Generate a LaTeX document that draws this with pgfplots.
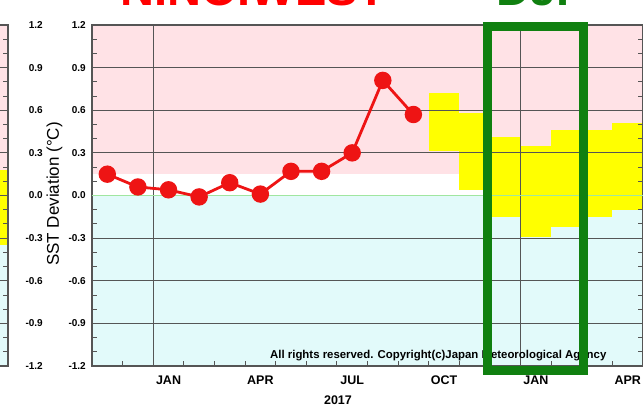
\documentclass[border=0pt]{standalone}
\usepackage{fontspec}
\setmainfont{Liberation Sans}
\usepackage{pgfplots}
\pgfplotsset{compat=1.18}
\definecolor{pinkbg}{RGB}{255,226,230}
\definecolor{cyanbg}{RGB}{226,250,250}
\definecolor{gridgray}{RGB}{85,85,85}
\definecolor{zerogreen}{RGB}{160,230,160}
\definecolor{boxgreen}{RGB}{16,128,16}
\definecolor{dotred}{RGB}{238,20,20}
\definecolor{yell}{RGB}{255,255,0}
\pgfplotsset{
  jma/.style={
    scale only axis, width=551pt, height=341pt,
    xmin=-1.5, xmax=16.5, ymin=-1.2, ymax=1.2,
    set layers, clip=false,
    ytick={-1.2,-0.9,-0.6,-0.3,0,0.3,0.6,0.9,1.2},
    yticklabels={-1.2,-0.9,-0.6,-0.3,0.0,0.3,0.6,0.9,1.2},
    minor ytick={-1.1,-1.0,-0.8,-0.7,-0.5,-0.4,-0.2,-0.1,0.1,0.2,0.4,0.5,0.7,0.8,1.0,1.1},
    ymajorgrids,
    major grid style={gridgray, line width=1.1pt},
    tick align=inside,
    minor tick length=5pt, major tick length=5pt,
    every tick/.style={gridgray, line width=0.9pt},
    axis line style={gridgray, line width=1.8pt},
    ytick pos=both,
    xtick={1,4,7,10,13,16},
    minor xtick={-0.5,0.5,...,15.5},
    major x tick style={draw=none},
    xtick pos=bottom,
    extra x ticks={0.5,12.5}, extra x tick labels={},
    extra x tick style={grid=major, major tick length=0pt},
    yticklabel style={font=\bfseries\fontsize{10}{12}\selectfont, inner sep=0pt},
    xticklabel style={font=\bfseries\fontsize{12.5}{14}\selectfont, inner sep=0pt, anchor=north, yshift=-10pt},
  }
}
\begin{document}
\begin{tikzpicture}[x=1pt,y=1pt]
% left (cropped) panel
\begin{axis}[jma, at={(8pt,40pt)}, anchor=south east,
  xticklabels={}, yticklabel pos=right,
  yticklabel style={anchor=east, xshift=35pt}]
  \addplot[fill=pinkbg, draw=none, on layer=axis background] coordinates {(-1.5,0.15) (16.5,0.15) (16.5,1.2) (-1.5,1.2)};
  \addplot[fill=cyanbg, draw=none, on layer=axis background] coordinates {(-1.5,-1.2) (16.5,-1.2) (16.5,0) (-1.5,0)};
  \addplot[fill=yell, draw=none, on layer=axis background] coordinates {(15.5,-0.35) (16.5,-0.35) (16.5,0.18) (15.5,0.18)};
\end{axis}
% main panel
\begin{axis}[jma, at={(92pt,40pt)}, anchor=south west,
  xticklabels={JAN,APR,JUL,OCT,JAN,APR}, yticklabel pos=left,
  yticklabel style={anchor=east, xshift=-6pt}]
  \addplot[fill=pinkbg, draw=none, on layer=axis background] coordinates {(-1.5,0.15) (16.5,0.15) (16.5,1.2) (-1.5,1.2)};
  \addplot[fill=cyanbg, draw=none, on layer=axis background] coordinates {(-1.5,-1.2) (16.5,-1.2) (16.5,0) (-1.5,0)};
  % forecast 70% ranges (Oct 2017 - Apr 2018)
  \addplot[fill=yell, draw=none, on layer=axis background] coordinates {(9.5,0.31) (10.5,0.31) (10.5,0.72) (9.5,0.72)};
  \addplot[fill=yell, draw=none, on layer=axis background] coordinates {(10.5,0.04) (11.5,0.04) (11.5,0.58) (10.5,0.58)};
  \addplot[fill=yell, draw=none, on layer=axis background] coordinates {(11.5,-0.15) (12.5,-0.15) (12.5,0.41) (11.5,0.41)};
  \addplot[fill=yell, draw=none, on layer=axis background] coordinates {(12.5,-0.29) (13.5,-0.29) (13.5,0.35) (12.5,0.35)};
  \addplot[fill=yell, draw=none, on layer=axis background] coordinates {(13.5,-0.22) (14.5,-0.22) (14.5,0.46) (13.5,0.46)};
  \addplot[fill=yell, draw=none, on layer=axis background] coordinates {(14.5,-0.15) (15.5,-0.15) (15.5,0.46) (14.5,0.46)};
  \addplot[fill=yell, draw=none, on layer=axis background] coordinates {(15.5,-0.10) (16.5,-0.10) (16.5,0.51) (15.5,0.51)};
  % zero line
  \addplot[zerogreen, line width=1.4pt] coordinates {(-1.5,0) (16.5,0)};
  % observed monthly values
  \addplot[dotred, line width=2.8pt, mark=*, mark size=7.3pt, mark options={fill=dotred, draw=none}]
    coordinates {(-1,0.15) (0,0.06) (1,0.04) (2,-0.01) (3,0.09) (4,0.01) (5,0.17) (6,0.17) (7,0.30) (8,0.81) (9,0.57)};
\end{axis}
% texts
\node[rotate=90, font=\fontsize{17}{19}\selectfont] at (54.5,212) {SST Deviation (°C)};
\node[anchor=north, inner sep=0pt, font=\bfseries\fontsize{12.5}{14}\selectfont] at (338,10) {2017};
\node[anchor=base west, inner sep=0pt, font=\bfseries\fontsize{11.4}{13}\selectfont] at (270,47) {All rights reserved. Copyright(c)Japan Meteorological Agency};
\node[anchor=base west, inner sep=0pt, text=red, font=\bfseries\fontsize{47}{52}\selectfont] at (120,400) {NINO.WEST};
\node[anchor=base west, inner sep=0pt, text=boxgreen, font=\bfseries\fontsize{47}{52}\selectfont] at (496,400) {DJF};
% highlight box
\draw[boxgreen, line width=9pt] (487.5,35) rectangle (583,379);
\pgfresetboundingbox
\path[use as bounding box] (0,0) rectangle (643,406);
\end{tikzpicture}
\end{document}
